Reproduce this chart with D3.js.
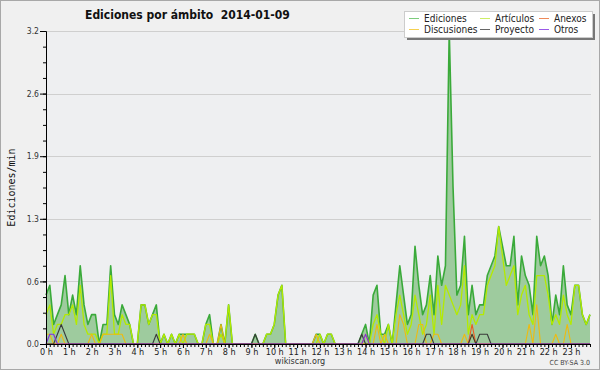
<!DOCTYPE html>
<html>
<head>
<meta charset="utf-8">
<script src="https://cdn.jsdelivr.net/npm/d3@7"></script>
<style>
  body { margin: 0; background: #f0f0f0; }
  svg { display: block; }
  text { font-family: "DejaVu Sans Condensed", "DejaVu Sans", sans-serif; font-stretch: condensed; }
</style>
</head>
<body>
<svg id="chart" width="600" height="370"></svg>
<script>
// one value every 10 minutes, edits per minute
var hourLabels = d3.range(24).map(function(h) { return h + " h"; });
var yTickValues = [0, 0.64, 1.28, 1.92, 2.56, 3.2];
var seriesNames = ["Ediciones", "Artículos", "Anexos", "Discusiones", "Proyecto", "Otros"];

var ediciones = [
  0.5,0.6,0.2,0.3,0.4,0.7,0.3,0.5,0.3,0.8,0.4,0.2,
  0.3,0.3,0,0.2,0.2,0.8,0.3,0.2,0.4,0.3,0.2,0,
  0,0.4,0.4,0.2,0.3,0.4,0,0.1,0,0.1,0,0.1,
  0.1,0.1,0.1,0.1,0,0,0.2,0.3,0,0,0.2,0,
  0.4,0,0,0,0,0,0,0.1,0,0,0.1,0.1,
  0.2,0.5,0.6,0,0,0,0,0,0,0,0,0.1,
  0.1,0,0.1,0.1,0,0,0,0,0,0,0,0.1,
  0.2,0,0.5,0.6,0.1,0.1,0.2,0,0.4,0.8,0.5,0.2,
  0.3,1.0,0.6,0.3,0.4,0.7,0.3,0.9,0.6,0.8,3.2,1.6,
  0.5,0.6,1.1,0.3,0.6,0.3,0.4,0.4,0.7,0.8,0.9,1.2,
  1.0,0.8,0.8,1.1,0.4,0.9,0.7,0.6,0.3,1.1,0.8,0.9,
  0.7,0.2,0.5,0.3,0.8,0.4,0.3,0.6,0.6,0.3,0.2,0.3
];
var articulos = [
  0.3,0.4,0.1,0.2,0.2,0.3,0.3,0.4,0.2,0.6,0.2,0.1,
  0.1,0.1,0,0.1,0.1,0.7,0.1,0.1,0.3,0.2,0.2,0,
  0,0.4,0.4,0.2,0.3,0.3,0,0.1,0,0.1,0,0.1,
  0,0.1,0.1,0.1,0,0,0.2,0.2,0,0,0.1,0,
  0.4,0,0,0,0,0,0,0,0,0,0.1,0.1,
  0.2,0.5,0.6,0,0,0,0,0,0,0,0,0,
  0.1,0,0.1,0.1,0,0,0,0,0,0,0,0,
  0,0,0.2,0.3,0.1,0,0.2,0,0.3,0.5,0.3,0.1,
  0.2,0.5,0.3,0.1,0.2,0.5,0.1,0.6,0.2,0.6,0.5,0.4,
  0.3,0.4,0.8,0.1,0.3,0.2,0.3,0.3,0.6,0.7,0.8,1.2,
  0.9,0.6,0.7,0.8,0.3,0.5,0.6,0.3,0.2,0.7,0.7,0.7,
  0.5,0.2,0.3,0.2,0.5,0.3,0.2,0.6,0.6,0.3,0.2,0.3
];
var discusiones = [
  0.1,0.1,0,0,0.1,0,0,0,0,0,0,0,
  0.1,0,0,0.1,0.1,0.1,0.1,0.1,0.1,0,0,0,
  0,0,0,0,0,0,0,0,0,0,0,0,
  0.1,0,0,0,0,0,0,0.1,0,0,0.2,0,
  0,0,0,0,0,0,0,0,0,0,0,0,
  0,0,0,0,0,0,0,0,0,0,0,0.1,
  0,0,0,0,0,0,0,0,0,0,0,0,
  0.1,0,0,0.2,0,0.1,0,0,0,0.3,0.2,0,
  0,0,0.2,0.2,0,0,0.1,0.1,0,0,0,0,
  0,0,0.1,0,0.1,0,0,0,0,0,0,0,
  0,0,0,0,0,0,0,0.2,0,0.4,0,0,
  0,0,0.1,0,0,0.2,0,0,0,0,0,0
];
var anexos = [
  0,0,0,0,0,0,0,0,0,0,0,0,
  0,0,0,0,0,0,0,0,0,0,0,0,
  0,0,0,0,0,0,0,0,0,0,0,0,
  0,0,0,0,0,0,0,0,0,0,0,0,
  0,0,0,0,0,0,0,0,0,0,0,0,
  0,0,0,0,0,0,0,0,0,0,0,0,
  0,0,0,0,0,0,0,0,0,0,0,0,
  0,0,0,0,0,0,0,0,0,0,0,0,
  0,0,0,0,0,0,0,0,0,0,0,0,
  0,0,0,0,0.2,0,0,0,0,0,0,0,
  0,0,0,0,0,0,0,0,0,0,0,0,
  0,0,0,0,0,0,0,0,0,0,0,0
];
var proyecto = [
  0,0,0,0.1,0.2,0.1,0,0,0,0,0,0,
  0,0,0,0,0,0,0,0,0,0,0,0,
  0,0,0,0,0,0.1,0,0,0,0,0,0,
  0,0,0,0,0,0,0,0,0,0,0,0,
  0,0,0,0,0,0,0,0.1,0,0,0,0,
  0,0,0,0,0,0,0,0,0,0,0,0,
  0,0,0,0,0,0,0,0,0,0,0,0.1,
  0,0,0,0,0,0,0,0,0,0,0,0,
  0,0,0,0,0.1,0.1,0,0,0,0,0,0,
  0,0,0,0,0.1,0,0.1,0.1,0.1,0,0,0,
  0,0,0,0,0,0,0,0,0,0,0,0,
  0,0,0,0,0,0,0,0,0,0,0,0
];
var otros = [
  0,0.1,0.1,0,0,0,0,0,0,0,0,0,
  0,0,0,0,0,0,0,0,0,0,0,0,
  0,0,0,0,0,0,0,0,0,0,0,0,
  0,0,0,0,0,0,0,0,0,0,0,0,
  0,0,0,0,0,0,0,0,0,0,0,0,
  0,0,0,0,0,0,0,0,0,0,0,0,
  0,0,0,0,0,0,0,0,0,0,0,0,
  0.1,0,0,0,0,0,0,0,0,0,0,0,
  0,0,0,0,0,0,0,0,0,0,0,0,
  0,0,0,0,0,0,0,0,0,0,0,0,
  0,0,0,0,0,0,0,0,0,0,0,0,
  0,0,0,0,0,0,0,0,0,0,0,0
];

var colors = {
  "Ediciones": "#3aaa3a", "Artículos": "#b4ea00", "Anexos": "#ee5a22",
  "Discusiones": "#eebb10", "Proyecto": "#3a3a3a", "Otros": "#8030e0"
};
var legendColors = {
  "Ediciones": "#7ccc7c", "Artículos": "#cdee66", "Anexos": "#ee8a5a",
  "Discusiones": "#f5d050", "Proyecto": "#666", "Otros": "#9a5ae8"
};

var svg = d3.select("svg#chart"),
    margin = {top: 31, right: 10, bottom: 26, left: 46},
    width = +svg.attr("width") - margin.left - margin.right,
    height = +svg.attr("height") - margin.top - margin.bottom;

var x = d3.scaleLinear().domain([0, 143]).range([0, width]),
    y = d3.scaleLinear().domain([0, 3.2]).range([height, 0]);

svg.append("rect")
    .attr("x", 0.5).attr("y", 0.5).attr("width", 599).attr("height", 369)
    .attr("fill", "#f0f0f0").attr("stroke", "#a8a8a8");

var g = svg.append("g")
    .attr("transform", "translate(" + margin.left + "," + margin.top + ")");

g.append("rect")
    .attr("width", width + 1).attr("height", height)
    .attr("fill", "#eeeff1");

// horizontal grid on the major ticks
g.selectAll(".grid").data(yTickValues.slice(1)).enter().append("line")
    .attr("class", "grid")
    .attr("x1", 0).attr("x2", width + 1)
    .attr("y1", function(d) { return Math.round(y(d)) + 0.5; })
    .attr("y2", function(d) { return Math.round(y(d)) + 0.5; })
    .attr("stroke", "#cfcfcf");

var area = d3.area()
    .x(function(d, i) { return x(i); })
    .y0(height)
    .y1(function(d) { return y(d); });

var line = d3.line()
    .x(function(d, i) { return x(i); })
    .y(function(d) { return y(d); });

g.append("path").datum(ediciones)
    .attr("d", area).attr("fill", "#9ecb9e");

var drawn = [
  [ediciones, "Ediciones", 1.6],
  [articulos, "Artículos", 1.3],
  [discusiones, "Discusiones", 1.1],
  [anexos, "Anexos", 1.1],
  [proyecto, "Proyecto", 1.1],
  [otros, "Otros", 1.1]
];
drawn.forEach(function(s) {
  g.append("path").datum(s[0])
      .attr("d", line)
      .attr("fill", "none")
      .attr("stroke", colors[s[1]])
      .attr("stroke-width", s[2])
      .attr("stroke-linejoin", "round");
});

// y axis
var fmt = d3.format(".1f");
var yAxis = g.append("g")
    .call(d3.axisLeft(y).tickValues(yTickValues).tickSize(6).tickSizeOuter(0).tickFormat(fmt));
g.append("g")
    .call(d3.axisLeft(y).tickValues(d3.range(0, 3.21, 0.16)).tickSize(3).tickSizeOuter(0).tickFormat(""));
yAxis.selectAll("text").attr("x", -7).attr("font-size", "8.5px").attr("fill", "#333");

// x axis: one small tick per 10 minutes, labels on the hours
g.append("g")
    .attr("transform", "translate(0," + height + ")")
    .call(d3.axisBottom(x).tickValues(d3.range(0, 144)).tickSize(3).tickSizeOuter(0).tickFormat(""));
var xAxis = g.append("g")
    .attr("transform", "translate(0," + height + ")")
    .call(d3.axisBottom(x).tickValues(d3.range(0, 144, 6)).tickSize(4).tickSizeOuter(0)
      .tickFormat(function(d) { return hourLabels[d / 6]; }));
xAxis.selectAll("text").attr("y", 5).attr("font-size", "9px").attr("fill", "#222");
xAxis.select(".domain").attr("d", "M0,0.5H" + (width + 1));
g.selectAll(".domain").attr("stroke", "#000");

// titles
svg.append("text")
    .attr("x", 85).attr("y", 18.5)
    .attr("font-size", "12px").attr("font-weight", "bold").attr("fill", "#111")
    .style("white-space", "pre")
    .text("Ediciones por ámbito  2014-01-09");

svg.append("text")
    .attr("transform", "translate(15," + (margin.top + height / 2) + ") rotate(-90)")
    .attr("text-anchor", "middle")
    .style("font-family", "'DejaVu Sans Mono', monospace")
    .style("font-stretch", "normal")
    .attr("font-size", "10px").attr("fill", "#111")
    .text("Ediciones/min");

svg.append("text")
    .attr("x", 300).attr("y", 364).attr("text-anchor", "middle")
    .attr("font-size", "9px").attr("fill", "#333")
    .text("wikiscan.org");

svg.append("text")
    .attr("x", 590).attr("y", 365).attr("text-anchor", "end")
    .attr("font-size", "7px").attr("fill", "#444")
    .text("CC BY-SA 3.0");

// legend
var lg = svg.append("g").attr("transform", "translate(404,11)");
lg.append("rect").attr("x", 3).attr("y", 3).attr("width", 188).attr("height", 26).attr("fill", "#777");
lg.append("rect").attr("x", 0.5).attr("y", 0.5).attr("width", 188).attr("height", 26)
    .attr("fill", "#fff").attr("stroke", "#ccc");

var colX = [5, 76, 135], rowY = [7.5, 18.5];
var item = lg.selectAll(".item").data(seriesNames).enter().append("g")
    .attr("class", "item")
    .attr("transform", function(d, i) {
      var col = [0, 1, 2, 0, 1, 2][i], row = i < 3 ? 0 : 1;
      return "translate(" + colX[col] + "," + rowY[row] + ")";
    });
item.append("line")
    .attr("x1", 0).attr("x2", 10)
    .attr("stroke", function(d) { return legendColors[d]; });
item.append("text")
    .attr("x", 15).attr("y", 3.5)
    .attr("font-size", "10px").attr("fill", "#222")
    .text(function(d) { return d; });
</script>
</body>
</html>
